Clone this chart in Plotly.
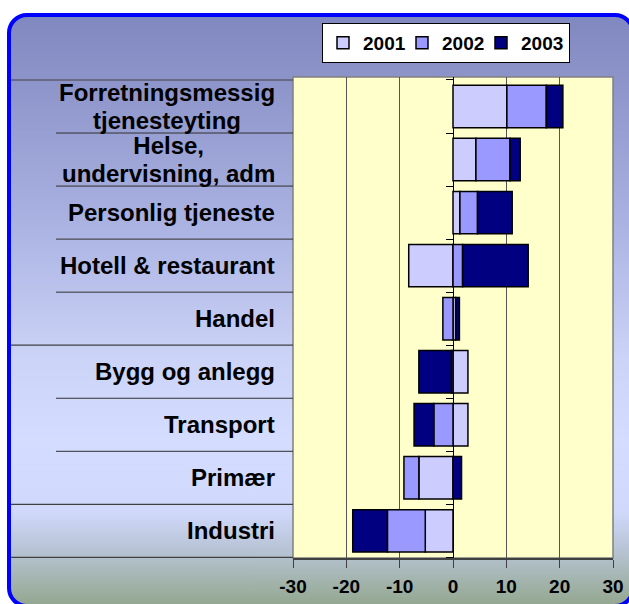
import base64
import plotly.graph_objects as go

# sectors listed bottom to top, the order plotly draws a category axis
sectors = [
    "Industri",
    "Primær",
    "Transport",
    "Bygg og anlegg",
    "Handel",
    "Hotell & restaurant",
    "Personlig tjeneste",
    "Helse,<br>undervisning, adm",
    "Forretningsmessig<br>tjenesteyting",
]
growth_2001 = [-5.2, -6.4, 2.8, 2.8, 0.5, -8.3, 1.3, 4.3, 10.1]
growth_2002 = [-7.1, -2.8, -3.6, -0.3, -1.9, 1.8, 3.3, 6.4, 7.4]
growth_2003 = [-6.5, 1.6, -3.7, -6.1, 0.7, 12.3, 6.5, 1.9, 3.1]
years = ["2001", "2002", "2003"]
x_ticks = [-30, -20, -10, 0, 10, 20, 30]

# category boundaries that run across the whole label column (group edges)
group_edges = [-0.5, 0.5, 3.5, 8.5]
inner_edges = [1.5, 2.5, 4.5, 5.5, 6.5, 7.5]

colors = ["#ccccff", "#9999ff", "#000080"]
W, H = 629, 604
x_dom = [293 / W, 613 / W]
y_dom = [1 - 558 / H, 1 - 77 / H]
font = "Arial, Liberation Sans, sans-serif"


def background_svg():
    stops = [
        (0.00, "#8088c0"),
        (0.12, "#8e95ca"),
        (0.35, "#aab2e2"),
        (0.58, "#cbd3f7"),
        (0.72, "#d4dcff"),
        (0.84, "#d0d9fb"),
        (0.90, "#b9c5d8"),
        (1.00, "#93a78e"),
    ]
    stop_tags = "".join(
        f'<stop offset="{o}" stop-color="{c}"/>' for o, c in stops
    )
    svg = (
        f'<svg xmlns="http://www.w3.org/2000/svg" width="{W}" height="{H}">'
        '<defs><linearGradient id="g" x1="0" y1="0" x2="0" y2="1">'
        f"{stop_tags}</linearGradient></defs>"
        '<rect x="9" y="15" width="624" height="591" rx="18" ry="18" '
        'fill="url(#g)" stroke="#0000ff" stroke-width="4"/></svg>'
    )
    return "data:image/svg+xml;base64," + base64.b64encode(svg.encode()).decode()


def label_text(name):
    # glyphs at 24px, line pitch taken from the smaller annotation font
    return "<br>".join(
        f"<span style='font-size:24px'>{part}</span>" for part in name.split("<br>")
    )


fig = go.Figure()
for i, (year, vals, col) in enumerate(zip(years, [growth_2001, growth_2002, growth_2003], colors)):
    fig.add_trace(go.Bar(
        y=sectors,
        x=vals,
        name=year,
        orientation="h",
        marker=dict(color=col, line=dict(color="black", width=1.5)),
        legendwidth=34 if i < len(years) - 1 else None,
    ))

# plot area fill with its grey frame
fig.add_shape(type="rect", xref="x domain", yref="y domain", x0=0, x1=1, y0=0, y1=1,
              fillcolor="#ffffcc", line=dict(color="#808080", width=1.5), layer="below")

for edge in group_edges:
    fig.add_shape(type="line", xref="paper", yref="y", x0=11 / W, x1=x_dom[0],
                  y0=edge, y1=edge, line=dict(color="#404040", width=1.2))
for edge in inner_edges:
    fig.add_shape(type="line", xref="paper", yref="y", x0=56 / W, x1=x_dom[0],
                  y0=edge, y1=edge, line=dict(color="#303030", width=1))

for name in sectors:
    fig.add_annotation(
        x=277 / W, xref="paper", y=name, yref="y",
        text=label_text(name), showarrow=False, xanchor="right", align="center",
        font=dict(family=font, size=21.5, color="black", weight="bold"),
    )

zero_pos = x_dom[0] + (0 - x_ticks[0]) / (x_ticks[-1] - x_ticks[0]) * (x_dom[1] - x_dom[0])

fig.update_layout(
    width=W,
    height=H,
    margin=dict(l=0, r=0, t=0, b=0),
    paper_bgcolor="white",
    plot_bgcolor="rgba(0,0,0,0)",
    barmode="relative",
    bargap=0.2,
    images=[dict(
        source=background_svg(), xref="paper", yref="paper", x=0, y=1,
        sizex=1, sizey=1, xanchor="left", yanchor="top",
        sizing="stretch", layer="below",
    )],
    xaxis=dict(
        domain=x_dom,
        range=[x_ticks[0], x_ticks[-1]],
        tickvals=x_ticks,
        ticktext=[str(v) for v in x_ticks],
        automargin=False,
        showgrid=True,
        gridcolor="#555555",
        gridwidth=1,
        zeroline=True,
        zerolinecolor="black",
        zerolinewidth=1,
        showline=True,
        linecolor="#404040",
        linewidth=1.5,
        ticks="outside",
        ticklen=8,
        tickcolor="#404040",
        ticklabelstandoff=2,
        tickfont=dict(family=font, size=19, color="black", weight="bold"),
    ),
    yaxis=dict(
        domain=y_dom,
        anchor="free",
        position=zero_pos,
        automargin=False,
        showticklabels=False,
        showgrid=False,
        showline=False,
        ticks="outside",
        tickson="boundaries",
        ticklen=7,
        tickcolor="black",
    ),
    legend=dict(
        x=570 / W,
        y=1 - 23 / H,
        xanchor="right",
        yanchor="top",
        orientation="h",
        traceorder="normal",
        bgcolor="white",
        bordercolor="black",
        borderwidth=1,
        itemwidth=30,
        font=dict(family=font, size=19, color="black", weight="bold"),
    ),
)

fig.write_html(
    "out.html",
    config={"displayModeBar": False},
    post_script="document.body.style.margin = '0';",
)
